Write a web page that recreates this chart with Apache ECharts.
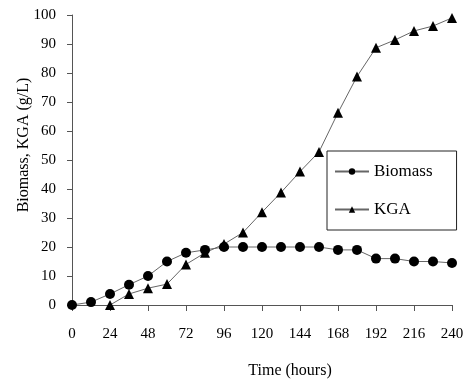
<!DOCTYPE html>
<html><head><meta charset="utf-8">
<script src="https://cdn.jsdelivr.net/npm/echarts@6/dist/echarts.min.js"></script>
<style>html,body{margin:0;padding:0;background:#fff}#c{width:468px;height:384px}</style>
</head><body><div id="c"></div>
<script>
const biomassHours = [0,12,24,36,48,60,72,84,96,108,120,132,144,156,168,180,192,204,216,228,240];
const biomassValues = [0,1,3.8,7,10,15,18,19,20,20,20,20,20,20,19,19,16,16,15,15,14.5];
const kgaHours = [24,36,48,60,72,84,96,108,120,132,144,156,168,180,192,204,216,228,240];
const kgaValues = [0,3.8,5.8,7.2,14,18,21,25,32,38.8,46,52.8,66.3,78.8,88.7,91.4,94.5,96.2,99];
const xTicks = [0,24,48,72,96,120,144,168,192,216,240];
const yTicks = [0,10,20,30,40,50,60,70,80,90,100];

const serif = '"Liberation Serif", "DejaVu Serif", serif';
const chart = echarts.init(document.getElementById('c'), null, {renderer:'canvas'});
chart.setOption({
  animation:false,
  backgroundColor:'#fff',
  grid:{left:72,right:16,top:15,bottom:78},
  legend:{
    orient:'vertical', left:327, top:151,
    padding:[12,24,12,7], itemGap:21, itemWidth:34, itemHeight:8,
    borderColor:'#222', borderWidth:1,
    textStyle:{fontFamily:serif,fontSize:17,color:'#000'},
    data:['Biomass','KGA']
  },
  xAxis:{
    type:'value', min:0, max:240, interval:24,
    name:'Time (hours)', nameLocation:'middle', nameGap:58, nameMoveOverlap:false,
    nameTextStyle:{fontFamily:serif,fontSize:16,color:'#000',padding:[0,0,0,56]},
    axisLine:{lineStyle:{color:'#555',width:1}},
    axisTick:{show:true,length:6,lineStyle:{color:'#555'}},
    axisLabel:{fontFamily:serif,fontSize:15,color:'#000',margin:22},
    splitLine:{show:false}
  },
  yAxis:{
    type:'value', min:0, max:100, interval:10,
    name:'Biomass, KGA (g/L)', nameLocation:'middle', nameGap:40, nameMoveOverlap:false,
    nameTextStyle:{fontFamily:serif,fontSize:16,color:'#000',padding:[0,0,0,30]},
    axisLine:{show:true,lineStyle:{color:'#555',width:1}},
    axisTick:{show:true,length:5,lineStyle:{color:'#555'}},
    axisLabel:{fontFamily:serif,fontSize:15,color:'#000',margin:16},
    splitLine:{show:false}
  },
  series:[
    {name:'Biomass',type:'line',symbol:'circle',symbolSize:10,
     data:biomassHours.map((h,i)=>[h,biomassValues[i]]),
     lineStyle:{color:'#666',width:1},itemStyle:{color:'#000'}},
    {name:'KGA',type:'line',symbol:'triangle',symbolSize:10,
     data:kgaHours.map((h,i)=>[h,kgaValues[i]]),
     lineStyle:{color:'#666',width:1},itemStyle:{color:'#000'}}
  ]
});
</script></body></html>
